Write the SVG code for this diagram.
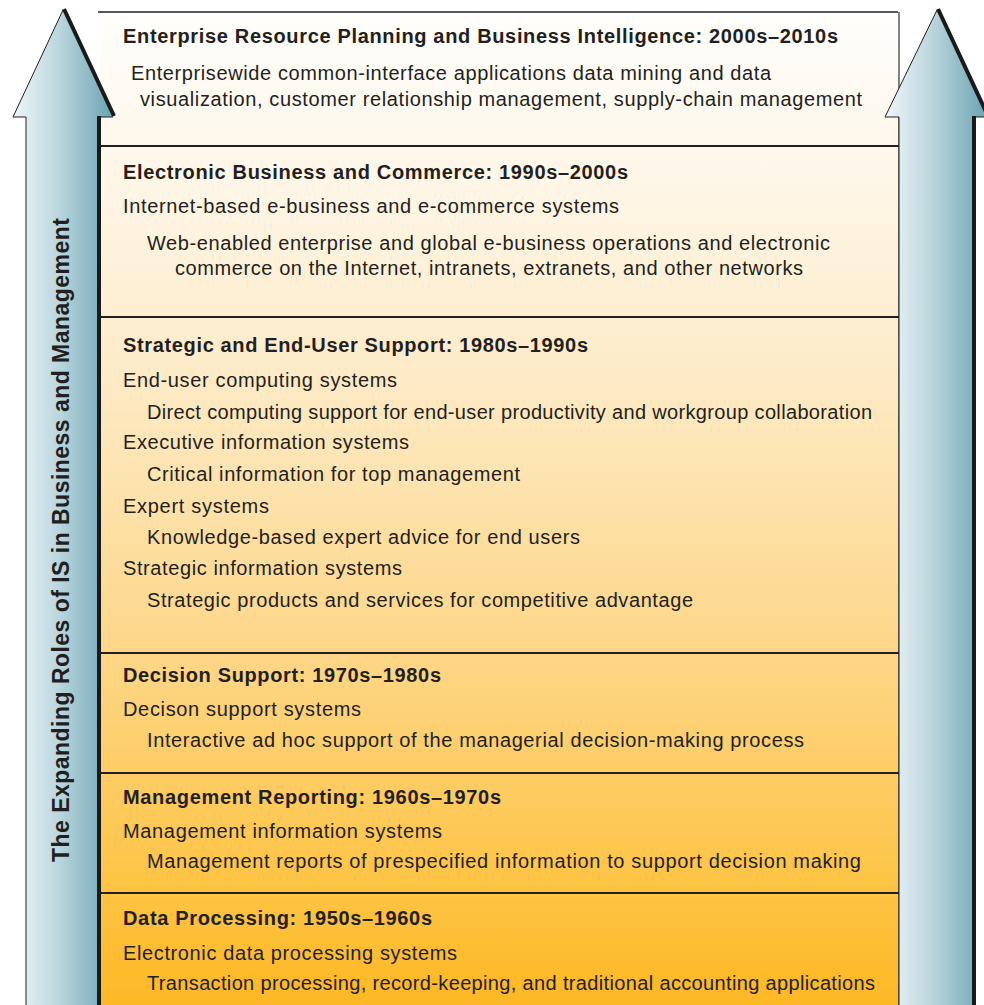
<svg xmlns="http://www.w3.org/2000/svg" width="984" height="1005" viewBox="0 0 984 1005">
<defs>
<linearGradient id="arrowGrad" x1="0" y1="0" x2="1" y2="0">
<stop offset="0" stop-color="#eef5f7"/>
<stop offset="0.45" stop-color="#bcd7de"/>
<stop offset="1" stop-color="#6ba3b2"/>
</linearGradient>
<linearGradient id="boxGrad" x1="0" y1="12" x2="0" y2="1005" gradientUnits="userSpaceOnUse">
<stop offset="0" stop-color="#fffefc"/>
<stop offset="0.15" stop-color="#fef7ea"/>
<stop offset="0.35" stop-color="#fdecca"/>
<stop offset="0.65" stop-color="#fdd687"/>
<stop offset="0.88" stop-color="#fdc444"/>
<stop offset="1" stop-color="#fdb824"/>
</linearGradient>
<style>
.t{font-family:"Liberation Sans",Arial,sans-serif;fill:#231f20;}
.h{font-size:20px;font-weight:bold;}
.b{font-size:20px;}
.div{stroke:#231f20;stroke-width:2;}
.thin{fill:none;stroke:#231f20;stroke-width:1;}
.thick{fill:none;stroke:#1a1a1a;stroke-width:4;}
</style>
</defs>
<rect x="0" y="0" width="984" height="1005" fill="#ffffff"/>

<g id="background-box">
<rect x="100" y="12" width="799" height="995" fill="url(#boxGrad)"/>
<line x1="98" y1="12" x2="898" y2="12" stroke="#231f20" stroke-width="1.5"/>
<line x1="899" y1="12" x2="899" y2="1005" stroke="#5a5a5a" stroke-width="1.5"/>
</g>

<g id="connectors">
<line class="div" x1="100" y1="146" x2="899" y2="146"/>
<line class="div" x1="100" y1="317" x2="899" y2="317"/>
<line class="div" x1="100" y1="653" x2="899" y2="653"/>
<line class="div" x1="100" y1="773" x2="899" y2="773"/>
<line class="div" x1="100" y1="893" x2="899" y2="893"/>
</g>

<g id="left-arrow">
<path d="M63,10 L113,117 L100,117 L100,1010 L26,1010 L26,117 L13,117 Z" fill="url(#arrowGrad)"/>
<path class="thin" d="M113,117 L100,117 M26,1010 L26,117 L13,117 L63,10"/>
<path class="thick" d="M64,9 L114,116"/>
<line class="thick" x1="99" y1="116" x2="99" y2="1010"/>
<text class="t" font-size="23" font-weight="bold" transform="translate(69,540) rotate(-90)" text-anchor="middle" textLength="644">The Expanding Roles of IS in Business and Management</text>
</g>

<g id="right-arrow">
<path d="M937,10 L987,117 L973,117 L973,1010 L899,1010 L899,117 L885,117 Z" fill="url(#arrowGrad)"/>
<path class="thin" d="M987,117 L973,117 M899,1010 L899,117 L885,117 L937,10"/>
<path class="thick" d="M938,9 L988,116"/>
<line class="thick" x1="974" y1="116" x2="974" y2="1010"/>
</g>

<g id="erp">
<text class="t h" x="123" y="43" textLength="715">Enterprise Resource Planning and Business Intelligence: 2000s–2010s</text>
<text class="t b" x="131" y="80" textLength="640">Enterprisewide common-interface applications data mining and data</text>
<text class="t b" x="140" y="106" textLength="722">visualization, customer relationship management, supply-chain management</text>
</g>

<g id="ebusiness">
<text class="t h" x="123" y="179" textLength="505">Electronic Business and Commerce: 1990s–2000s</text>
<text class="t b" x="123" y="213" textLength="496">Internet-based e-business and e-commerce systems</text>
<text class="t b" x="147" y="250" textLength="683">Web-enabled enterprise and global e-business operations and electronic</text>
<text class="t b" x="175" y="275" textLength="628">commerce on the Internet, intranets, extranets, and other networks</text>
</g>

<g id="strategic">
<text class="t h" x="123" y="352" textLength="465">Strategic and End-User Support: 1980s–1990s</text>
<text class="t b" x="123" y="387" textLength="274">End-user computing systems</text>
<text class="t b" x="147" y="419" textLength="725">Direct computing support for end-user productivity and workgroup collaboration</text>
<text class="t b" x="123" y="449" textLength="286">Executive information systems</text>
<text class="t b" x="147" y="481" textLength="373">Critical information for top management</text>
<text class="t b" x="123" y="513" textLength="146">Expert systems</text>
<text class="t b" x="147" y="544" textLength="433">Knowledge-based expert advice for end users</text>
<text class="t b" x="123" y="575" textLength="279">Strategic information systems</text>
<text class="t b" x="147" y="607" textLength="546">Strategic products and services for competitive advantage</text>
</g>

<g id="decision">
<text class="t h" x="123" y="682" textLength="318">Decision Support: 1970s–1980s</text>
<text class="t b" x="123" y="716" textLength="238">Decison support systems</text>
<text class="t b" x="147" y="747" textLength="657">Interactive ad hoc support of the managerial decision-making process</text>
</g>

<g id="management">
<text class="t h" x="123" y="804" textLength="378">Management Reporting: 1960s–1970s</text>
<text class="t b" x="123" y="838" textLength="319">Management information systems</text>
<text class="t b" x="147" y="868" textLength="714">Management reports of prespecified information to support decision making</text>
</g>

<g id="dataprocessing">
<text class="t h" x="123" y="925" textLength="309">Data Processing: 1950s–1960s</text>
<text class="t b" x="123" y="960" textLength="334">Electronic data processing systems</text>
<text class="t b" x="147" y="990" textLength="728">Transaction processing, record-keeping, and traditional accounting applications</text>
</g>
</svg>
